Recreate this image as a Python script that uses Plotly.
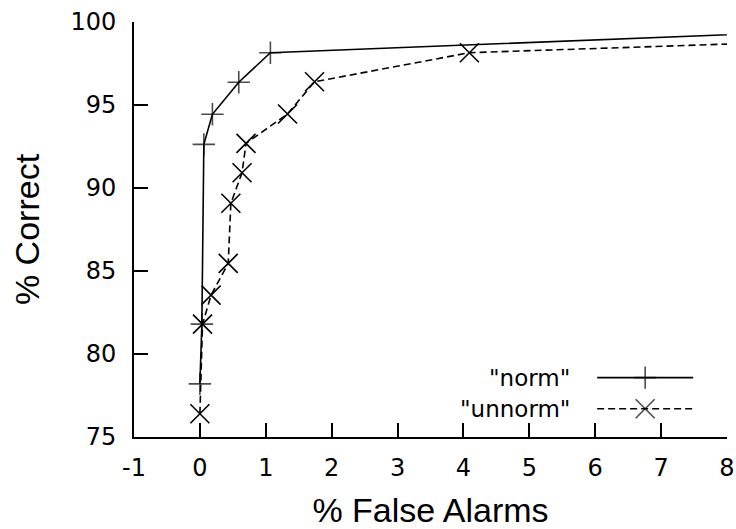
import plotly.graph_objects as go

# --- data ---
norm_x = [0.0, 0.03, 0.06, 0.19, 0.59, 1.07, 12.0]
norm_y = [78.2, 81.8, 92.63, 94.44, 96.37, 98.15, 99.85]
# last point lies beyond the visible x range (line is clipped at x=8)
norm_marker_visible = [True, True, True, True, True, True, False]

unnorm_x = [0.0, 0.04, 0.17, 0.43, 0.47, 0.64, 0.70, 1.33, 1.74, 4.09, 12.0]
unnorm_y = [76.4, 81.8, 83.55, 85.46, 89.08, 90.92, 92.69, 94.46, 96.4, 98.15, 99.2]

x_ticks = [-1, 0, 1, 2, 3, 4, 5, 6, 7, 8]
y_ticks = [75, 80, 85, 90, 95, 100]
x_title = "% False Alarms"
y_title = "% Correct"
legend_labels = ['"norm"', '"unnorm"']

# --- styling ---
TICK_FONT = dict(family="DejaVu Sans", size=24, color="black")
TITLE_FONT = dict(family="Liberation Sans, Arial", size=34, color="black")
LEG_FONT = dict(family="DejaVu Sans", size=23, color="black")
DASH = "7px,4px"

fig = go.Figure()

fig.add_trace(go.Scatter(
    x=norm_x, y=norm_y, mode="lines+markers",
    line=dict(color="black", width=1.6),
    marker=dict(symbol="cross-thin", size=[16 if v else 0 for v in norm_marker_visible],
                line=dict(color="black", width=1.6), color="black"),
    showlegend=False,
))
fig.add_trace(go.Scatter(
    x=unnorm_x, y=unnorm_y, mode="lines+markers",
    line=dict(color="black", width=1.6, dash=DASH),
    marker=dict(symbol="x-thin", size=19,
                line=dict(color="black", width=1.6), color="black"),
    showlegend=False,
))

# --- hand-built key (gnuplot style: label on the left, sample on the right) ---
key_text_right = 0.739
key_line = [0.781, 0.862, 0.943]
key_rows = [0.143, 0.068]
key_styles = [
    dict(symbol="cross-thin", size=16, dash="solid"),
    dict(symbol="x-thin", size=19, dash=DASH),
]
for label, row, st in zip(legend_labels, key_rows, key_styles):
    fig.add_trace(go.Scatter(
        x=key_line, y=[row] * 3, xaxis="x2", yaxis="y2", mode="lines+markers",
        line=dict(color="black", width=1.6, dash=st["dash"]),
        marker=dict(symbol=st["symbol"], size=[0, st["size"], 0],
                    line=dict(color="black", width=1.6), color="black"),
        showlegend=False, hoverinfo="skip",
    ))
    fig.add_annotation(
        x=key_text_right, y=row, xref="paper", yref="paper",
        text=label, showarrow=False, xanchor="right", yanchor="middle",
        font=LEG_FONT,
    )

fig.update_layout(
    width=736, height=529,
    margin=dict(l=134, r=9, t=22, b=92, autoexpand=False),
    paper_bgcolor="white", plot_bgcolor="white",
    xaxis=dict(
        range=[-1, 8], tickvals=x_ticks, ticktext=[str(v) for v in x_ticks],
        ticks="inside", ticklen=14, tickwidth=1.5, tickcolor="black",
        showline=True, linecolor="black", linewidth=2, mirror=False,
        showgrid=False, zeroline=False, tickfont=TICK_FONT,
        ticklabelstandoff=8, automargin=False,
        title=dict(text=x_title, font=TITLE_FONT, standoff=21),
    ),
    yaxis=dict(
        range=[75, 100], tickvals=y_ticks, ticktext=[str(v) for v in y_ticks],
        ticks="inside", ticklen=14, tickwidth=1.5, tickcolor="black",
        showline=True, linecolor="black", linewidth=2, mirror=False,
        showgrid=False, zeroline=False, tickfont=TICK_FONT,
        ticklabelstandoff=11, automargin=False,
        title=dict(text=y_title, font=TITLE_FONT, standoff=20),
    ),
    xaxis2=dict(range=[0, 1], overlaying="x", visible=False, fixedrange=True),
    yaxis2=dict(range=[0, 1], overlaying="y", visible=False, fixedrange=True),
)

# remove the browser's default 8px body margin so the figure fills the window exactly
fig.write_html(
    "out.html",
    config={"displayModeBar": False},
    post_script="document.body.style.margin='0px';document.body.style.overflow='hidden';",
)
